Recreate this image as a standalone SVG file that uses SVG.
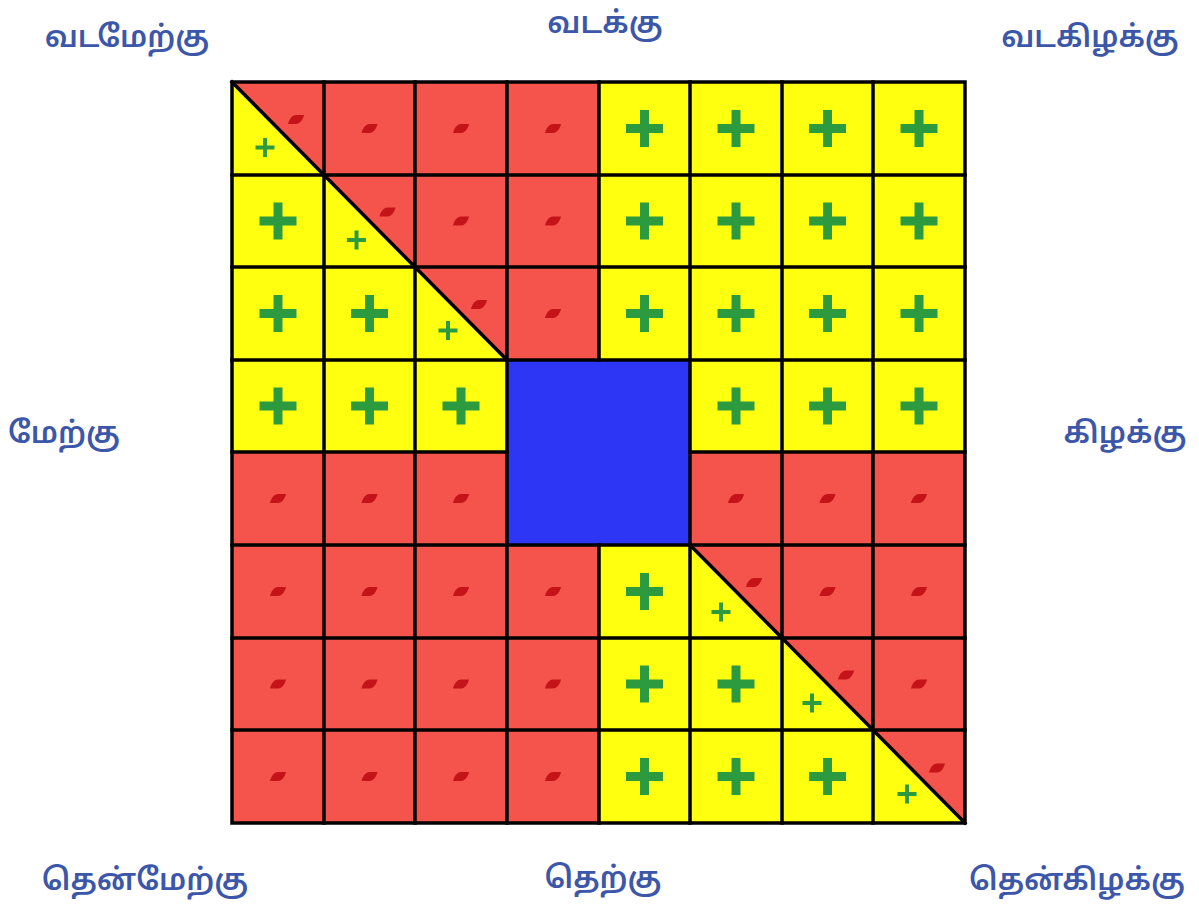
<svg xmlns="http://www.w3.org/2000/svg" xmlns:xlink="http://www.w3.org/1999/xlink" width="1199" height="904" viewBox="0 0 1199 904">
<style>
.r{fill:#F4544B}
.y{fill:#FFFF10}
.b{fill:#2E36F5}
.lbl{font-family:"Noto Sans Tamil","Lohit Tamil","Noto Sans",sans-serif;font-size:30px;font-weight:600;fill:#3C57A9;text-anchor:middle}
.grid{stroke:#000;stroke-width:3.5;fill:none;stroke-linecap:square}
</style>
<defs>
<path id="bp" d="M-4.5,-18.5H4.5V-4.5H18.5V4.5H4.5V18.5H-4.5V4.5H-18.5V-4.5H-4.5Z" fill="#2C9A3E"/>
<path id="sp" d="M-2,-9.5H2V-2H9.5V2H2V9.5H-2V2H-9.5V-2H-2Z" fill="#2C9A3E"/>
<path id="mk" d="M-8,4.5C-7,0 -4,-4.5 0,-4.5L8,-4.5C7,0 4,4.5 0,4.5Z" fill="#C4141A"/>
</defs>
<rect width="1199" height="904" fill="#fff"/>
<g id="cells">
<g id="c00"><polygon class="y" points="232,82 232,175 324,175"/><polygon class="r" points="232,82 324,82 324,175"/><use href="#mk" x="296" y="119.5"/><use href="#sp" x="265" y="147.5"/></g>
<g id="c01"><rect class="r" x="324" y="82" width="91" height="93"/><use href="#mk" x="369.5" y="128.5"/></g>
<g id="c02"><rect class="r" x="415" y="82" width="92" height="93"/><use href="#mk" x="461" y="128.5"/></g>
<g id="c03"><rect class="r" x="507" y="82" width="92" height="93"/><use href="#mk" x="553" y="128.5"/></g>
<g id="c04"><rect class="y" x="599" y="82" width="91" height="93"/><use href="#bp" x="644.5" y="128.5"/></g>
<g id="c05"><rect class="y" x="690" y="82" width="92" height="93"/><use href="#bp" x="736" y="128.5"/></g>
<g id="c06"><rect class="y" x="782" y="82" width="91" height="93"/><use href="#bp" x="827.5" y="128.5"/></g>
<g id="c07"><rect class="y" x="873" y="82" width="92" height="93"/><use href="#bp" x="919" y="128.5"/></g>

<g id="c10"><rect class="y" x="232" y="175" width="92" height="92"/><use href="#bp" x="278" y="221"/></g>
<g id="c11"><polygon class="y" points="324,175 324,267 415,267"/><polygon class="r" points="324,175 415,175 415,267"/><use href="#mk" x="387.5" y="212"/><use href="#sp" x="356.5" y="240"/></g>
<g id="c12"><rect class="r" x="415" y="175" width="92" height="92"/><use href="#mk" x="461" y="221"/></g>
<g id="c13"><rect class="r" x="507" y="175" width="92" height="92"/><use href="#mk" x="553" y="221"/></g>
<g id="c14"><rect class="y" x="599" y="175" width="91" height="92"/><use href="#bp" x="644.5" y="221"/></g>
<g id="c15"><rect class="y" x="690" y="175" width="92" height="92"/><use href="#bp" x="736" y="221"/></g>
<g id="c16"><rect class="y" x="782" y="175" width="91" height="92"/><use href="#bp" x="827.5" y="221"/></g>
<g id="c17"><rect class="y" x="873" y="175" width="92" height="92"/><use href="#bp" x="919" y="221"/></g>

<g id="c20"><rect class="y" x="232" y="267" width="92" height="93"/><use href="#bp" x="278" y="313.5"/></g>
<g id="c21"><rect class="y" x="324" y="267" width="91" height="93"/><use href="#bp" x="369.5" y="313.5"/></g>
<g id="c22"><polygon class="y" points="415,267 415,360 507,360"/><polygon class="r" points="415,267 507,267 507,360"/><use href="#mk" x="479" y="304.5"/><use href="#sp" x="448" y="330.5"/></g>
<g id="c23"><rect class="r" x="507" y="267" width="92" height="93"/><use href="#mk" x="553" y="313.5"/></g>
<g id="c24"><rect class="y" x="599" y="267" width="91" height="93"/><use href="#bp" x="644.5" y="313.5"/></g>
<g id="c25"><rect class="y" x="690" y="267" width="92" height="93"/><use href="#bp" x="736" y="313.5"/></g>
<g id="c26"><rect class="y" x="782" y="267" width="91" height="93"/><use href="#bp" x="827.5" y="313.5"/></g>
<g id="c27"><rect class="y" x="873" y="267" width="92" height="93"/><use href="#bp" x="919" y="313.5"/></g>

<g id="c30"><rect class="y" x="232" y="360" width="92" height="92"/><use href="#bp" x="278" y="406"/></g>
<g id="c31"><rect class="y" x="324" y="360" width="91" height="92"/><use href="#bp" x="369.5" y="406"/></g>
<g id="c32"><rect class="y" x="415" y="360" width="92" height="92"/><use href="#bp" x="461" y="406"/></g>
<g id="centre"><rect class="b" x="507" y="360" width="183" height="185"/></g>
<g id="c35"><rect class="y" x="690" y="360" width="92" height="92"/><use href="#bp" x="736" y="406"/></g>
<g id="c36"><rect class="y" x="782" y="360" width="91" height="92"/><use href="#bp" x="827.5" y="406"/></g>
<g id="c37"><rect class="y" x="873" y="360" width="92" height="92"/><use href="#bp" x="919" y="406"/></g>

<g id="c40"><rect class="r" x="232" y="452" width="92" height="93"/><use href="#mk" x="278" y="498.5"/></g>
<g id="c41"><rect class="r" x="324" y="452" width="91" height="93"/><use href="#mk" x="369.5" y="498.5"/></g>
<g id="c42"><rect class="r" x="415" y="452" width="92" height="93"/><use href="#mk" x="461" y="498.5"/></g>
<g id="c45"><rect class="r" x="690" y="452" width="92" height="93"/><use href="#mk" x="736" y="498.5"/></g>
<g id="c46"><rect class="r" x="782" y="452" width="91" height="93"/><use href="#mk" x="827.5" y="498.5"/></g>
<g id="c47"><rect class="r" x="873" y="452" width="92" height="93"/><use href="#mk" x="919" y="498.5"/></g>

<g id="c50"><rect class="r" x="232" y="545" width="92" height="93"/><use href="#mk" x="278" y="591.5"/></g>
<g id="c51"><rect class="r" x="324" y="545" width="91" height="93"/><use href="#mk" x="369.5" y="591.5"/></g>
<g id="c52"><rect class="r" x="415" y="545" width="92" height="93"/><use href="#mk" x="461" y="591.5"/></g>
<g id="c53"><rect class="r" x="507" y="545" width="92" height="93"/><use href="#mk" x="553" y="591.5"/></g>
<g id="c54"><rect class="y" x="599" y="545" width="91" height="93"/><use href="#bp" x="644.5" y="591.5"/></g>
<g id="c55"><polygon class="y" points="690,545 690,638 782,638"/><polygon class="r" points="690,545 782,545 782,638"/><use href="#mk" x="754" y="582.5"/><use href="#sp" x="721" y="612"/></g>
<g id="c56"><rect class="r" x="782" y="545" width="91" height="93"/><use href="#mk" x="827.5" y="591.5"/></g>
<g id="c57"><rect class="r" x="873" y="545" width="92" height="93"/><use href="#mk" x="919" y="591.5"/></g>

<g id="c60"><rect class="r" x="232" y="638" width="92" height="92"/><use href="#mk" x="278" y="684"/></g>
<g id="c61"><rect class="r" x="324" y="638" width="91" height="92"/><use href="#mk" x="369.5" y="684"/></g>
<g id="c62"><rect class="r" x="415" y="638" width="92" height="92"/><use href="#mk" x="461" y="684"/></g>
<g id="c63"><rect class="r" x="507" y="638" width="92" height="92"/><use href="#mk" x="553" y="684"/></g>
<g id="c64"><rect class="y" x="599" y="638" width="91" height="92"/><use href="#bp" x="644.5" y="684"/></g>
<g id="c65"><rect class="y" x="690" y="638" width="92" height="92"/><use href="#bp" x="736" y="684"/></g>
<g id="c66"><polygon class="y" points="782,638 782,730 873,730"/><polygon class="r" points="782,638 873,638 873,730"/><use href="#mk" x="846" y="675"/><use href="#sp" x="812" y="703"/></g>
<g id="c67"><rect class="r" x="873" y="638" width="92" height="92"/><use href="#mk" x="919" y="684"/></g>

<g id="c70"><rect class="r" x="232" y="730" width="92" height="93"/><use href="#mk" x="278" y="776.5"/></g>
<g id="c71"><rect class="r" x="324" y="730" width="91" height="93"/><use href="#mk" x="369.5" y="776.5"/></g>
<g id="c72"><rect class="r" x="415" y="730" width="92" height="93"/><use href="#mk" x="461" y="776.5"/></g>
<g id="c73"><rect class="r" x="507" y="730" width="92" height="93"/><use href="#mk" x="553" y="776.5"/></g>
<g id="c74"><rect class="y" x="599" y="730" width="91" height="93"/><use href="#bp" x="644.5" y="776.5"/></g>
<g id="c75"><rect class="y" x="690" y="730" width="92" height="93"/><use href="#bp" x="736" y="776.5"/></g>
<g id="c76"><rect class="y" x="782" y="730" width="91" height="93"/><use href="#bp" x="827.5" y="776.5"/></g>
<g id="c77"><polygon class="y" points="873,730 873,823 965,823"/><polygon class="r" points="873,730 965,730 965,823"/><use href="#mk" x="937" y="768"/><use href="#sp" x="907" y="794"/></g>
</g>
<g id="grid" class="grid">
<path d="M324,82V823M415,82V823M507,82V823M599,82V360M690,82V823M782,82V823M873,82V823M599,545V823"/>
<path d="M232,175H965M232,267H965M232,360H965M232,452H507M690,452H965M232,545H965M232,638H965M232,730H965"/>
<path d="M232,82L507,360M690,545L965,823"/>
<rect x="232" y="82" width="733" height="741"/>
</g>
<g id="labels">
<text class="lbl" x="127" y="47">வடமேற்கு</text>
<text class="lbl" x="605" y="33">வடக்கு</text>
<text class="lbl" x="1090" y="47">வடகிழக்கு</text>
<text class="lbl" x="64" y="443">மேற்கு</text>
<text class="lbl" x="1125" y="443">கிழக்கு</text>
<text class="lbl" x="145" y="890">தென்மேற்கு</text>
<text class="lbl" x="603" y="888">தெற்கு</text>
<text class="lbl" x="1077" y="890">தென்கிழக்கு</text>
</g>
</svg>
